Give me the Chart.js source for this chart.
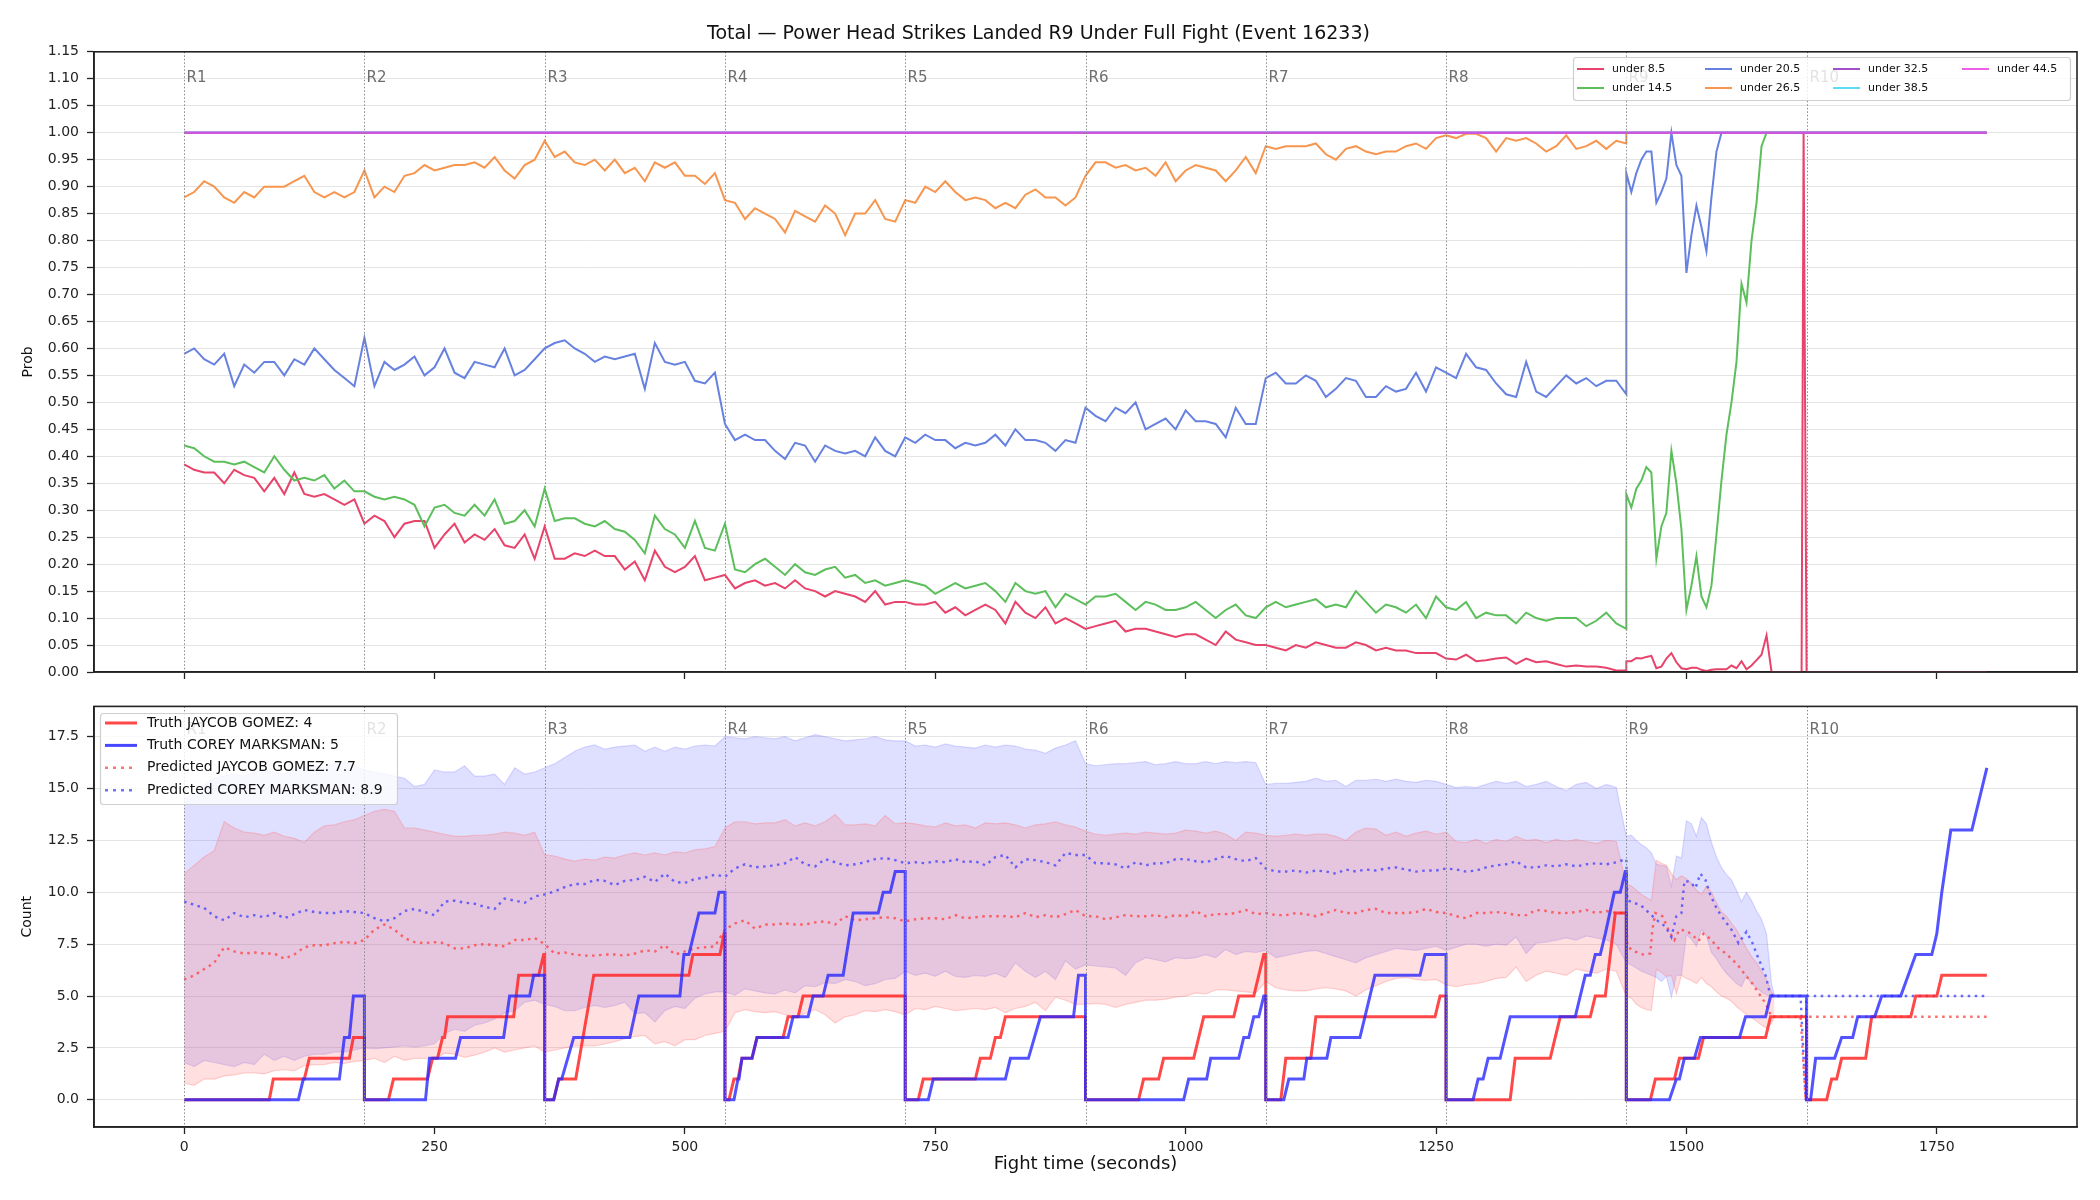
<!DOCTYPE html>
<html>
<head>
<meta charset="utf-8">
<script src="https://cdn.jsdelivr.net/npm/chart.js@4.4.1/dist/chart.umd.min.js"></script>
<style>
  body { margin: 0; background: #fff; }
  #wrap { position: relative; width: 2100px; height: 1200px; }
  canvas { position: absolute; left: 0; }
</style>
</head>
<body>
<div id="wrap">
  <canvas id="probChart" width="2100" height="690" style="top:0"></canvas>
  <canvas id="countChart" width="2100" height="510" style="top:690px"></canvas>
</div>
<script>
// ---- axes / rounds ----
const roundStarts = [0, 180, 360, 540, 720, 900, 1080, 1260, 1440, 1620];
const roundLabels = ["R1", "R2", "R3", "R4", "R5", "R6", "R7", "R8", "R9", "R10"];
const xTickValues = [0, 250, 500, 750, 1000, 1250, 1500, 1750];
const probTickValues = [0, 0.05, 0.1, 0.15, 0.2, 0.25, 0.3, 0.35, 0.4, 0.45, 0.5, 0.55, 0.6,
  0.65, 0.7, 0.75, 0.8, 0.85, 0.9, 0.95, 1.0, 1.05, 1.1, 1.15];
const countTickValues = [0, 2.5, 5, 7.5, 10, 12.5, 15, 17.5];

// sample times for rounds 1-8 (every 10 s inside each round)
const gridT = [];
roundStarts.slice(0, 8).forEach((s) => {
  for (let k = 0; k < 18; k++) gridT.push(s + k * 10);
});

// ---- top panel: probability of total under line, R1-R8 ----
const under8_5 = [
  0.385,0.375,0.37,0.37,0.35,0.375,0.365,0.36,0.335,0.36,0.33,0.37,0.33,0.325,0.33,0.32,0.31,0.32,
  0.275,0.29,0.28,0.25,0.275,0.28,0.28,0.23,0.255,0.275,0.24,0.255,0.245,0.265,0.235,0.23,0.255,0.21,
  0.27,0.21,0.21,0.22,0.215,0.225,0.215,0.215,0.19,0.205,0.17,0.225,0.195,0.185,0.195,0.215,0.17,0.175,
  0.18,0.155,0.165,0.17,0.16,0.165,0.155,0.17,0.155,0.15,0.14,0.15,0.145,0.14,0.13,0.15,0.125,0.13,
  0.13,0.125,0.125,0.13,0.11,0.12,0.105,0.115,0.125,0.115,0.09,0.13,0.11,0.10,0.12,0.09,0.10,0.09,
  0.08,0.085,0.09,0.095,0.075,0.08,0.08,0.075,0.07,0.065,0.07,0.07,0.06,0.05,0.075,0.06,0.055,0.05,
  0.05,0.045,0.04,0.05,0.045,0.055,0.05,0.045,0.045,0.055,0.05,0.04,0.045,0.04,0.04,0.035,0.035,0.035,
  0.025,0.023,0.032,0.02,0.022,0.025,0.027,0.015,0.025,0.018,0.02,0.015,0.01,0.012,0.01,0.01,0.008,0.003
];
const under14_5 = [
  0.42,0.415,0.40,0.39,0.39,0.385,0.39,0.38,0.37,0.40,0.375,0.355,0.36,0.355,0.365,0.34,0.355,0.335,
  0.335,0.325,0.32,0.325,0.32,0.31,0.27,0.305,0.31,0.295,0.29,0.31,0.29,0.32,0.275,0.28,0.30,0.27,
  0.34,0.28,0.285,0.285,0.275,0.27,0.28,0.265,0.26,0.245,0.22,0.29,0.265,0.255,0.23,0.28,0.23,0.225,
  0.275,0.19,0.185,0.20,0.21,0.195,0.18,0.20,0.185,0.18,0.19,0.195,0.175,0.18,0.165,0.17,0.16,0.165,
  0.17,0.165,0.16,0.145,0.155,0.165,0.155,0.16,0.165,0.15,0.13,0.165,0.15,0.145,0.15,0.12,0.145,0.135,
  0.125,0.14,0.14,0.145,0.13,0.115,0.13,0.125,0.115,0.115,0.12,0.13,0.115,0.10,0.115,0.125,0.105,0.10,
  0.12,0.13,0.12,0.125,0.13,0.135,0.12,0.125,0.12,0.15,0.13,0.11,0.125,0.12,0.11,0.125,0.10,0.14,
  0.12,0.115,0.13,0.10,0.11,0.105,0.105,0.09,0.11,0.10,0.095,0.10,0.10,0.10,0.085,0.095,0.11,0.09
];
const under20_5 = [
  0.59,0.60,0.58,0.57,0.59,0.53,0.57,0.555,0.575,0.575,0.55,0.58,0.57,0.60,0.58,0.56,0.545,0.53,
  0.62,0.53,0.575,0.56,0.57,0.585,0.55,0.565,0.60,0.555,0.545,0.575,0.57,0.565,0.60,0.55,0.56,0.58,
  0.60,0.61,0.615,0.60,0.59,0.575,0.585,0.58,0.585,0.59,0.525,0.61,0.575,0.57,0.575,0.54,0.535,0.555,
  0.46,0.43,0.44,0.43,0.43,0.41,0.395,0.425,0.42,0.39,0.42,0.41,0.405,0.41,0.40,0.435,0.41,0.40,
  0.435,0.425,0.44,0.43,0.43,0.415,0.425,0.42,0.425,0.44,0.42,0.45,0.43,0.43,0.425,0.41,0.43,0.425,
  0.49,0.475,0.465,0.49,0.48,0.50,0.45,0.46,0.47,0.45,0.485,0.465,0.465,0.46,0.435,0.49,0.46,0.46,
  0.545,0.555,0.535,0.535,0.55,0.54,0.51,0.525,0.545,0.54,0.51,0.51,0.53,0.52,0.525,0.555,0.52,0.565,
  0.555,0.545,0.59,0.565,0.56,0.535,0.515,0.51,0.575,0.52,0.51,0.53,0.55,0.535,0.545,0.53,0.54,0.54
];
const under26_5 = [
  0.88,0.89,0.91,0.90,0.88,0.87,0.89,0.88,0.90,0.90,0.90,0.91,0.92,0.89,0.88,0.89,0.88,0.89,
  0.93,0.88,0.90,0.89,0.92,0.925,0.94,0.93,0.935,0.94,0.94,0.945,0.935,0.955,0.93,0.915,0.94,0.95,
  0.985,0.955,0.965,0.945,0.94,0.95,0.93,0.95,0.925,0.935,0.91,0.945,0.935,0.945,0.92,0.92,0.905,0.925,
  0.875,0.87,0.84,0.86,0.85,0.84,0.815,0.855,0.845,0.835,0.865,0.85,0.81,0.85,0.85,0.875,0.84,0.835,
  0.875,0.87,0.90,0.89,0.91,0.89,0.875,0.88,0.875,0.86,0.87,0.86,0.885,0.895,0.88,0.88,0.865,0.88,
  0.92,0.945,0.945,0.935,0.94,0.93,0.935,0.92,0.945,0.91,0.93,0.94,0.935,0.93,0.91,0.93,0.955,0.925,
  0.975,0.97,0.975,0.975,0.975,0.98,0.96,0.95,0.97,0.975,0.965,0.96,0.965,0.965,0.975,0.98,0.97,0.99,
  0.995,0.99,0.998,0.998,0.99,0.965,0.99,0.985,0.99,0.98,0.965,0.975,0.995,0.97,0.975,0.985,0.97,0.985
];

// R9 onwards (every 5 s); first entry is the value just before the R9 jump
const tailT = [1440, 1440, 1445, 1450, 1455, 1460, 1465, 1470, 1475, 1480, 1485, 1490, 1495,
  1500, 1505, 1510, 1515, 1520, 1525, 1530, 1535, 1540, 1545, 1550, 1555, 1560, 1565, 1570,
  1575, 1580, 1585, 1590, 1595, 1600, 1605, 1610, 1615, 1617, 1620, 1800];
const under8_5Tail = [0.003, 0.02, 0.02, 0.026, 0.025, 0.028, 0.03, 0.007, 0.01, 0.025, 0.035, 0.018,
  0.007, 0.005, 0.008, 0.008, 0.004, 0.002, 0.004, 0.005, 0.005, 0.005, 0.012, 0.007, 0.02, 0.005,
  0.012, 0.022, 0.032, 0.068, 0, 0, 0, 0, 0, 0, 0, 1.0, 0, 0];
const under14_5Tail = [0.08, 0.33, 0.305, 0.34, 0.355, 0.38, 0.37, 0.21, 0.27, 0.295, 0.41, 0.35,
  0.265, 0.115, 0.16, 0.215, 0.14, 0.12, 0.16, 0.255, 0.355, 0.44, 0.50, 0.575, 0.72, 0.685, 0.80,
  0.87, 0.975, 1, 1, 1, 1, 1, 1, 1, 1, 1, 1, 1];
const under20_5Tail = [0.515, 0.925, 0.89, 0.925, 0.95, 0.965, 0.965, 0.87, 0.89, 0.915, 1.0, 0.94,
  0.92, 0.74, 0.81, 0.865, 0.825, 0.78, 0.88, 0.965, 1, 1, 1, 1, 1, 1, 1, 1, 1, 1, 1, 1, 1, 1, 1,
  1, 1, 1, 1, 1];
const under26_5Tail = [0.98, 1, 1, 1, 1, 1, 1, 1, 1, 1, 1, 1, 1, 1, 1, 1, 1, 1, 1, 1, 1, 1, 1, 1,
  1, 1, 1, 1, 1, 1, 1, 1, 1, 1, 1, 1, 1, 1, 1, 1];
const flatT = [0, 1800];
const under32_5 = [1, 1];
const under38_5 = [1, 1];
const under44_5 = [1, 1];

// ---- bottom panel: counts ----
const predCorey = [
  9.55,9.4,9.25,8.85,8.65,9.0,8.8,8.9,8.8,9.0,8.75,8.95,9.15,9.05,9.0,9.0,9.1,9.05,
  9.0,8.75,8.6,8.75,9.1,9.2,9.05,8.9,9.55,9.6,9.5,9.45,9.3,9.2,9.7,9.6,9.5,9.8,
  9.9,10.05,10.25,10.4,10.4,10.6,10.55,10.35,10.55,10.6,10.75,10.5,10.9,10.5,10.45,10.65,10.7,10.85,
  10.75,11.15,11.35,11.2,11.25,11.3,11.4,11.7,11.35,11.25,11.6,11.45,11.3,11.35,11.45,11.6,11.65,11.55,
  11.4,11.45,11.4,11.5,11.45,11.6,11.45,11.5,11.3,11.7,11.8,11.2,11.6,11.55,11.45,11.3,11.9,11.8,
  11.8,11.4,11.4,11.35,11.15,11.45,11.3,11.4,11.4,11.6,11.6,11.5,11.45,11.6,11.75,11.6,11.5,11.65,
  11.15,11.0,11.0,11.05,10.95,11.05,11.0,10.9,11.1,11.0,11.1,11.05,11.15,11.2,11.1,11.0,11.05,11.05,
  11.15,11.1,11.0,11.05,11.2,11.3,11.35,11.5,11.2,11.2,11.3,11.25,11.35,11.25,11.35,11.4,11.35,11.45
];
const predJaycob = [
  5.8,6.0,6.3,6.6,7.35,7.15,7.05,7.1,7.05,7.05,6.8,7.0,7.35,7.45,7.45,7.55,7.6,7.55,
  7.7,8.2,8.45,8.2,7.8,7.6,7.55,7.6,7.55,7.3,7.3,7.45,7.5,7.45,7.4,7.7,7.7,7.8,
  7.5,7.05,7.1,7.0,6.95,6.95,7.0,7.0,6.95,7.05,7.2,7.15,7.45,7.0,7.15,7.3,7.35,7.4,
  8.2,8.5,8.65,8.25,8.45,8.45,8.5,8.45,8.45,8.55,8.6,8.45,8.85,8.65,8.7,8.75,8.8,8.75,
  8.6,8.7,8.75,8.75,8.7,8.9,8.75,8.8,8.85,8.85,8.85,8.8,9.0,8.8,8.9,8.8,8.95,9.15,
  8.85,8.85,8.7,8.8,8.9,8.85,8.85,8.9,8.8,8.9,8.85,9.1,8.85,8.95,8.95,9.0,9.15,8.95,
  9.0,8.9,8.9,9.0,8.95,8.85,9.0,9.15,9.0,9.0,9.15,9.2,9.0,9.0,9.0,9.05,9.2,9.05,
  9.0,8.85,8.75,9.0,9.0,9.05,9.0,8.9,8.9,9.15,9.1,9.0,9.0,9.05,9.15,9.0,9.1,9.0
];
const coreyHigh = [
  14.5,14.8,15.2,15.5,15.6,15.7,15.6,15.8,15.9,15.8,15.7,15.9,16.0,16.1,16.0,16.2,16.3,16.1,
  15.9,15.8,15.7,15.6,15.5,15.1,15.2,15.9,15.8,15.8,16.1,15.6,15.6,15.7,15.2,16.0,15.7,15.8,
  16.0,16.2,16.5,16.8,17.0,17.1,16.9,17.0,17.05,17.1,16.8,17.0,16.8,17.0,16.9,17.05,17.1,17.05,
  17.5,17.45,17.4,17.5,17.45,17.4,17.5,17.3,17.45,17.6,17.5,17.4,17.3,17.35,17.4,17.5,17.35,17.3,
  17.3,17.05,17.1,17.0,17.15,17.05,17.0,16.95,17.1,17.0,17.1,17.05,16.9,16.85,16.7,16.95,17.1,17.3,
  16.2,16.1,16.15,16.2,16.2,16.25,16.3,16.15,16.2,16.3,16.2,16.2,16.3,16.2,16.3,16.25,16.3,16.25,
  15.2,15.25,15.25,15.3,15.35,15.5,15.35,15.4,15.1,15.4,15.4,15.45,15.35,15.45,15.35,15.3,15.4,15.35,
  15.2,15.05,15.1,15.05,15.2,15.35,15.25,15.35,15.1,15.2,15.35,15.1,14.9,15.2,15.3,15.0,15.2,15.05
];
const coreyLow = [
  1.8,1.6,1.9,1.8,1.7,1.6,1.8,1.7,2.2,1.9,2.1,1.9,2.1,2.2,2.2,2.3,2.3,2.4,
  2.5,2.45,2.5,2.55,2.6,2.55,2.6,2.7,3.2,3.4,3.3,3.6,3.7,3.9,4.2,4.3,4.7,4.8,
  4.6,4.5,4.3,4.3,4.45,4.55,4.45,4.55,4.7,4.15,4.2,3.75,4.3,4.5,4.4,4.9,5.1,5.2,
  5.2,5.05,5.35,5.25,5.15,5.1,5.3,5.15,5.5,5.45,5.65,5.6,5.8,5.7,5.5,5.6,5.8,5.85,
  6.2,6.0,6.1,5.95,6.2,5.95,5.9,6.0,5.95,6.1,5.9,6.6,6.2,5.9,6.2,5.8,6.7,6.3,
  6.5,6.45,6.4,6.35,6.0,6.6,6.85,6.75,6.65,6.85,6.8,6.85,7.0,6.85,7.25,7.0,7.15,7.1,
  7.2,6.85,6.95,7.05,7.15,7.2,7.05,6.9,6.75,6.6,6.85,7.0,7.15,7.3,7.25,7.2,7.3,7.4,
  7.2,7.35,7.5,7.5,7.4,7.5,7.45,7.85,7.05,7.55,7.6,7.7,7.8,7.7,7.9,7.8,7.7,7.5
];
const jaycobHigh = [
  10.9,11.3,11.7,12.0,13.4,13.1,12.9,12.85,12.75,12.9,12.7,12.6,12.4,12.9,13.2,13.25,13.4,13.5,
  13.7,13.9,14.0,13.9,13.1,13.1,13.0,12.9,12.8,12.7,12.7,12.75,12.75,12.8,12.9,12.85,12.75,12.9,
  11.8,11.75,11.6,11.5,11.6,11.55,11.7,11.65,11.8,11.9,11.8,11.9,11.8,11.95,11.9,12.05,12.1,12.2,
  13.1,13.4,13.4,13.3,13.35,13.35,13.5,13.2,13.35,13.2,13.4,13.75,13.25,13.25,13.3,13.2,13.7,13.3,
  13.35,13.3,13.2,13.15,13.35,13.2,13.25,13.1,13.35,13.3,13.35,13.25,13.1,13.25,13.3,13.4,13.25,13.15,
  12.95,12.8,12.75,12.8,12.85,12.8,12.9,12.85,12.8,12.85,13.0,12.95,12.85,12.95,12.8,12.5,12.9,12.85,
  12.75,12.7,12.75,12.8,12.75,12.8,12.8,12.7,12.5,12.9,13.1,13.05,12.75,12.9,12.7,12.85,12.95,12.8,
  12.9,12.45,12.4,12.55,12.35,12.55,12.45,12.7,12.5,12.55,12.4,12.55,12.45,12.55,12.45,12.35,12.5,12.45
];
const jaycobLow = [
  0.8,0.7,1.0,1.0,1.15,1.2,1.3,1.3,1.25,1.4,1.45,1.4,1.65,1.7,1.7,1.8,1.75,1.85,
  1.9,2.0,1.8,2.1,1.9,2.0,2.0,1.95,2.25,2.2,2.05,2.15,2.3,2.5,2.3,2.4,2.5,2.6,
  2.3,2.4,2.5,2.6,2.6,2.6,2.7,2.8,2.95,3.05,3.1,2.7,2.8,2.6,2.9,2.9,3.1,3.2,
  3.3,4.2,4.35,4.25,4.2,4.25,4.1,4.0,4.15,4.35,4.1,3.7,4.0,4.1,4.3,4.25,4.35,4.25,
  4.1,4.4,4.35,4.5,4.4,4.3,4.35,4.4,4.35,4.45,4.2,4.4,4.5,4.7,4.3,4.95,4.8,4.6,
  4.6,4.65,4.6,4.45,4.6,4.7,4.8,4.8,4.85,4.95,5.0,5.15,5.1,5.3,5.3,5.25,5.2,5.15,
  5.7,5.4,5.3,5.25,5.25,5.35,5.4,5.35,5.25,5.0,5.3,5.5,5.7,5.85,5.9,5.8,5.75,5.8,
  5.55,5.45,5.55,5.6,5.7,5.85,5.9,6.4,5.7,6.0,6.2,6.1,6.0,6.3,6.2,6.1,6.3,6.2
];

// R9 bands (every 5 s until the bands stop)
const bandTailT = [1440, 1445, 1450, 1455, 1460, 1465, 1470, 1475, 1480, 1485, 1490, 1495, 1500,
  1505, 1510, 1515, 1520, 1525, 1530, 1535, 1540, 1545, 1550, 1555, 1560, 1565, 1570, 1575, 1580,
  1585, 1588];
const coreyHighTail = [12.7,12.75,12.5,12.3,12.15,11.9,11.35,11.3,11.25,10.3,11.75,11.65,13.45,13.3,
  12.7,13.6,13.3,12.4,11.7,11.2,10.85,10.6,10.1,9.55,10.0,9.6,9.1,8.7,8.0,5.6,5.0];
const jaycobHighTail = [10.4,10.3,10.1,9.9,9.75,9.6,11.55,11.4,11.3,10.9,10.6,10.8,10.65,10.45,
  10.1,9.9,10.3,10.0,9.5,9.05,8.85,8.5,8.2,7.75,7.3,6.9,6.6,6.2,5.8,5.2,5.0];
const coreyLowTail = [6.6,6.5,6.35,6.2,6.1,6.0,5.9,5.7,5.95,4.95,6.0,6.0,7.95,7.75,7.4,8.2,7.9,
  7.1,6.8,6.4,6.1,5.85,5.6,5.45,6.0,5.6,5.4,5.2,5.05,5.0,5.0];
const jaycobLowTail = [5.0,4.9,4.6,4.45,4.35,4.3,6.3,6.15,5.95,6.0,5.1,6.0,5.85,5.75,5.6,5.9,5.6,
  5.45,5.2,5.0,4.9,4.75,4.5,4.3,4.1,3.95,3.8,3.6,3.45,3.7,4.0];

const predCoreyTailT = [1440, 1441, 1445, 1455, 1465, 1472, 1479, 1485, 1490, 1495, 1498, 1504,
  1509, 1514, 1519, 1524, 1531, 1538, 1545, 1552, 1560, 1566, 1572, 1579, 1583, 1586, 1614, 1619,
  1620, 1800];
const predCoreyTail = [11.6, 9.6, 9.55, 9.35, 8.9, 8.6, 8.35, 7.85, 8.85, 9.0, 10.55, 10.5, 10.2,
  10.9, 10.6, 9.85, 9.15, 8.65, 8.2, 7.55, 8.1, 7.55, 6.8, 6.0, 5.2, 5.0, 5.0, 0, 5.0, 5.0];
const predJaycobTailT = [1440, 1441, 1448, 1457, 1464, 1466, 1469, 1476, 1483, 1488, 1493, 1500,
  1507, 1512, 1517, 1524, 1531, 1538, 1545, 1552, 1559, 1566, 1572, 1579, 1585, 1614, 1619, 1620,
  1800];
const predJaycobTail = [9.0, 7.4, 7.15, 7.0, 7.05, 8.2, 9.0, 8.85, 8.1, 7.7, 8.2, 8.15, 7.9, 7.65,
  8.0, 7.75, 7.35, 7.1, 6.8, 6.45, 6.0, 5.6, 5.15, 4.65, 4.0, 4.0, 0, 4.0, 4.0];

// truth counts (cumulative per round)
const truthJaycobT = [0,85,89,120,125,165,169,180, 180,204,209,243,248,253,258,260,263,329,334,354,359,360,
  360,369,374,391,409,504,508,535,539,540, 540,544,549,553,557,567,572,598,603,613,618,720,
  720,733,738,790,795,805,810,815,820,900, 900,953,958,973,978,1008,1018,1048,1053,1068,1078,1080,
  1080,1095,1100,1125,1130,1249,1254,1260, 1260,1324,1329,1364,1374,1404,1409,1419,1429,1440,
  1440,1464,1469,1488,1493,1512,1517,1579,1584,1620, 1620,1640,1645,1650,1655,1679,1685,1724,1729,1750,1755,1800];
const truthJaycob = [0,0,1,1,2,2,3,3, 0,0,1,1,2,2,3,3,4,4,6,6,7,7, 0,0,1,1,6,6,7,7,8,8,
  0,0,1,1,2,2,3,3,4,4,5,5, 0,0,1,1,2,2,3,3,4,4, 0,0,1,1,2,2,4,4,5,5,7,7, 0,0,2,2,4,4,5,5,
  0,0,2,2,4,4,5,5,9,9, 0,0,1,1,2,2,3,3,4,4, 0,0,1,1,2,2,4,4,5,5,6,6];
const truthCoreyT = [0,114,119,155,160,165,169,180, 180,241,245,271,276,319,325,345,349,360,
  360,369,374,377,389,445,454,495,499,504,514,530,534,540,
  540,549,553,554,557,567,572,603,608,623,628,638,643,658,668,693,698,705,710,720,
  720,743,748,820,825,843,855,888,893,900, 900,998,1003,1021,1025,1053,1058,1063,1068,1073,1078,1080,
  1080,1098,1103,1118,1121,1141,1145,1174,1189,1234,1239,1260,
  1260,1287,1292,1297,1302,1314,1324,1389,1399,1404,1409,1414,1419,1428,1434,1439,1440,
  1440,1483,1490,1493,1498,1508,1514,1553,1559,1579,1584,1620,
  1620,1624,1629,1648,1655,1666,1671,1688,1695,1714,1729,1745,1750,1755,1764,1785,1800];
const truthCorey = [0,0,1,1,3,3,5,5, 0,0,2,2,3,3,5,5,6,6, 0,0,1,1,3,3,5,5,7,7,9,9,10,10,
  0,0,1,1,2,2,3,3,4,4,5,5,6,6,9,9,10,10,11,11, 0,0,1,1,2,2,4,4,6,6, 0,0,1,1,2,2,3,3,4,4,5,5,
  0,0,1,1,2,2,3,3,6,6,7,7, 0,0,1,1,2,2,4,4,6,6,7,7,8,10,10,11,11,
  0,0,1,1,2,2,3,3,4,4,5,5, 0,0,2,2,3,3,4,4,5,5,7,7,8,10,13,13,16];

// ---- helpers ----
const FONT = '"DejaVu Sans", "Liberation Sans", sans-serif';
Chart.defaults.font.family = FONT;
Chart.defaults.color = "#222";

function xy(ts, vs) {
  return vs.map((v, i) => ({ x: ts[i], y: v }));
}

function line(label, data, color, width, extra) {
  return Object.assign({
    label: label, data: data, borderColor: color, backgroundColor: color,
    borderWidth: width, pointRadius: 0, fill: false, tension: 0
  }, extra || {});
}

const roundMarks = (labelOffset) => ({
  id: "roundMarks",
  afterDatasetsDraw(chart) {
    const { ctx, chartArea: a, scales: { x } } = chart;
    ctx.save();
    ctx.strokeStyle = "#8a8a8a";
    ctx.lineWidth = 1;
    ctx.setLineDash([1.5, 2]);
    ctx.font = "15px " + FONT;
    ctx.fillStyle = "#6e6e6e";
    ctx.textBaseline = "middle";
    roundStarts.forEach((t, i) => {
      const px = Math.round(x.getPixelForValue(t)) + 0.5;
      ctx.beginPath();
      ctx.moveTo(px, a.top);
      ctx.lineTo(px, a.bottom);
      ctx.stroke();
      ctx.fillText(roundLabels[i], px + 2, a.top + labelOffset);
    });
    ctx.restore();
  }
});

const frame = {
  id: "frame",
  afterDraw(chart) {
    const { ctx, chartArea: a } = chart;
    ctx.save();
    ctx.strokeStyle = "#222";
    ctx.lineWidth = 1.6;
    ctx.strokeRect(a.left, a.top, a.right - a.left, a.bottom - a.top);
    ctx.restore();
  }
};

function legendBox(ctx, x, y, w, h) {
  ctx.save();
  ctx.fillStyle = "rgba(255,255,255,0.8)";
  ctx.strokeStyle = "#cfcfcf";
  ctx.lineWidth = 1.2;
  ctx.beginPath();
  ctx.roundRect(x, y, w, h, 3);
  ctx.fill();
  ctx.stroke();
  ctx.restore();
}

// ---- colors ----
const C = {
  red: "#e8436b", green: "#5cbf5c", blue: "#6681e0", orange: "#f7964f",
  purple: "#a24fc9", cyan: "#5fdcf5", magenta: "#ee5fe6"
};

const probLegendItems = [
  ["under 8.5", C.red], ["under 14.5", C.green], ["under 20.5", C.blue], ["under 26.5", C.orange],
  ["under 32.5", C.purple], ["under 38.5", C.cyan], ["under 44.5", C.magenta]
];

const probLegend = {
  id: "probLegend",
  afterDraw(chart) {
    const ctx = chart.ctx;
    legendBox(ctx, 1573.5, 57.5, 497, 43);
    ctx.save();
    ctx.font = "11px " + FONT;
    ctx.textBaseline = "middle";
    ctx.lineWidth = 2;
    const colX = [1577, 1705, 1833, 1962];
    const rowY = [69, 88];
    probLegendItems.forEach(([label, color], i) => {
      const cx = colX[Math.floor(i / 2)], cy = rowY[i % 2];
      ctx.strokeStyle = color;
      ctx.beginPath();
      ctx.moveTo(cx, cy);
      ctx.lineTo(cx + 27, cy);
      ctx.stroke();
      ctx.fillStyle = "#111";
      ctx.fillText(label, cx + 35, cy);
    });
    ctx.restore();
  }
};

const countLegendItems = [
  ["Truth JAYCOB GOMEZ: 4", "rgba(255,40,40,0.85)", []],
  ["Truth COREY MARKSMAN: 5", "rgba(40,40,255,0.85)", []],
  ["Predicted JAYCOB GOMEZ: 7.7", "rgba(255,70,70,0.75)", [3, 5]],
  ["Predicted COREY MARKSMAN: 8.9", "rgba(70,70,255,0.75)", [3, 5]]
];

const countLegend = {
  id: "countLegend",
  afterDraw(chart) {
    const ctx = chart.ctx;
    legendBox(ctx, 100.5, 23.5, 297, 91);
    ctx.save();
    ctx.font = "14px " + FONT;
    ctx.textBaseline = "middle";
    countLegendItems.forEach(([label, color, dash], i) => {
      const cy = 33 + i * 22.4;
      ctx.strokeStyle = color;
      ctx.lineWidth = i < 2 ? 3 : 2.5;
      ctx.setLineDash(dash);
      ctx.beginPath();
      ctx.moveTo(105, cy);
      ctx.lineTo(137, cy);
      ctx.stroke();
      ctx.setLineDash([]);
      ctx.fillStyle = "#111";
      ctx.fillText(label, 147, cy);
    });
    ctx.restore();
  }
};

const xAxisBase = {
  type: "linear",
  min: -90,
  max: 1890,
  afterBuildTicks: (s) => { s.ticks = xTickValues.map((v) => ({ value: v })); },
  border: { color: "#222", width: 1.6 },
  grid: { drawOnChartArea: false, tickLength: 7, tickColor: "#222", tickWidth: 1.3 }
};

// ---- top chart ----
new Chart(document.getElementById("probChart"), {
  type: "line",
  data: {
    datasets: [
      line("under 32.5", xy(flatT, under32_5), "#b052d3", 2.4, { order: 2 }),
      line("under 44.5", xy(flatT, under44_5), "rgba(238,95,230,0.45)", 2.4, { order: 1 }),
      line("under 38.5", xy(flatT, under38_5), C.cyan, 2.4, { order: 3 }),
      line("under 26.5", xy(gridT.concat(tailT), under26_5.concat(under26_5Tail)), C.orange, 2, { order: 4 }),
      line("under 20.5", xy(gridT.concat(tailT), under20_5.concat(under20_5Tail)), C.blue, 2, { order: 5 }),
      line("under 14.5", xy(gridT.concat(tailT), under14_5.concat(under14_5Tail)), C.green, 2, { order: 6 }),
      line("under 8.5", xy(gridT.concat(tailT), under8_5.concat(under8_5Tail)), C.red, 2, { order: 7 })
    ]
  },
  options: {
    responsive: false,
    animation: false,
    devicePixelRatio: 1,
    layout: { padding: { left: 0, right: 23, top: 0, bottom: 0 } },
    plugins: {
      legend: { display: false },
      tooltip: { enabled: false },
      title: {
        display: true,
        text: "Total \u2014 Power Head Strikes Landed R9 Under Full Fight (Event 16233)",
        font: { size: 19, weight: "normal" },
        color: "#111",
        padding: { top: 23, bottom: 6 }
      }
    },
    scales: {
      x: Object.assign({}, xAxisBase, {
        ticks: { display: false },
        afterFit: (s) => { s.height = 18; }
      }),
      y: {
        min: 0,
        max: 1.15,
        afterBuildTicks: (s) => { s.ticks = probTickValues.map((v) => ({ value: v })); },
        ticks: { callback: (v) => Number(v).toFixed(2), font: { size: 14 }, padding: 8, color: "#222" },
        grid: { color: "#e4e4e4", tickLength: 7, tickColor: "#222", tickWidth: 1.3 },
        border: { color: "#222", width: 1.6 },
        title: { display: true, text: "Prob", font: { size: 14 }, color: "#111", padding: { top: 20, bottom: 0 } },
        afterFit: (s) => { s.width = 94; }
      }
    }
  },
  plugins: [roundMarks(26), frame, probLegend]
});

// ---- bottom chart ----
new Chart(document.getElementById("countChart"), {
  type: "line",
  data: {
    datasets: [
      line("corey low", xy(gridT.concat(bandTailT), coreyLow.concat(coreyLowTail)), "rgba(100,100,255,0.22)", 1.2, { order: 10 }),
      line("corey high", xy(gridT.concat(bandTailT), coreyHigh.concat(coreyHighTail)), "rgba(100,100,255,0.22)", 1.2,
        { order: 9, fill: "-1", backgroundColor: "rgba(110,110,255,0.22)" }),
      line("jaycob low", xy(gridT.concat(bandTailT), jaycobLow.concat(jaycobLowTail)), "rgba(255,100,100,0.28)", 1.2, { order: 8 }),
      line("jaycob high", xy(gridT.concat(bandTailT), jaycobHigh.concat(jaycobHighTail)), "rgba(255,100,100,0.28)", 1.2,
        { order: 7, fill: "-1", backgroundColor: "rgba(255,110,110,0.22)" }),
      line("Predicted JAYCOB GOMEZ: 7.7", xy(gridT.concat(predJaycobTailT), predJaycob.concat(predJaycobTail)),
        "rgba(255,70,70,0.8)", 2.4, { order: 4, borderDash: [2.5, 4.5] }),
      line("Predicted COREY MARKSMAN: 8.9", xy(gridT.concat(predCoreyTailT), predCorey.concat(predCoreyTail)),
        "rgba(70,70,255,0.8)", 2.4, { order: 3, borderDash: [2.5, 4.5] }),
      line("Truth JAYCOB GOMEZ: 4", xy(truthJaycobT, truthJaycob), "rgba(255,40,40,0.85)", 3, { order: 2 }),
      line("Truth COREY MARKSMAN: 5", xy(truthCoreyT, truthCorey), "rgba(40,40,255,0.8)", 3, { order: 1 })
    ]
  },
  options: {
    responsive: false,
    animation: false,
    devicePixelRatio: 1,
    layout: { padding: { left: 0, right: 23, top: 9, bottom: 0 } },
    plugins: { legend: { display: false }, tooltip: { enabled: false } },
    scales: {
      x: Object.assign({}, xAxisBase, {
        ticks: { callback: (v) => String(v), font: { size: 14 }, padding: 5, color: "#222", maxRotation: 0 },
        title: { display: true, text: "Fight time (seconds)", font: { size: 18 }, color: "#111", padding: { top: 4, bottom: 25 } },
        afterFit: (s) => { s.height = 73; }
      }),
      y: {
        min: -1.31,
        max: 18.96,
        afterBuildTicks: (s) => { s.ticks = countTickValues.map((v) => ({ value: v })); },
        ticks: { callback: (v) => Number(v).toFixed(1), font: { size: 14 }, padding: 8, color: "#222" },
        grid: { color: "#e4e4e4", tickLength: 7, tickColor: "#222", tickWidth: 1.3 },
        border: { color: "#222", width: 1.6 },
        title: { display: true, text: "Count", font: { size: 14 }, color: "#111", padding: { top: 19, bottom: 0 } },
        afterFit: (s) => { s.width = 94; }
      }
    }
  },
  plugins: [roundMarks(24), frame, countLegend]
});
</script>
</body>
</html>
